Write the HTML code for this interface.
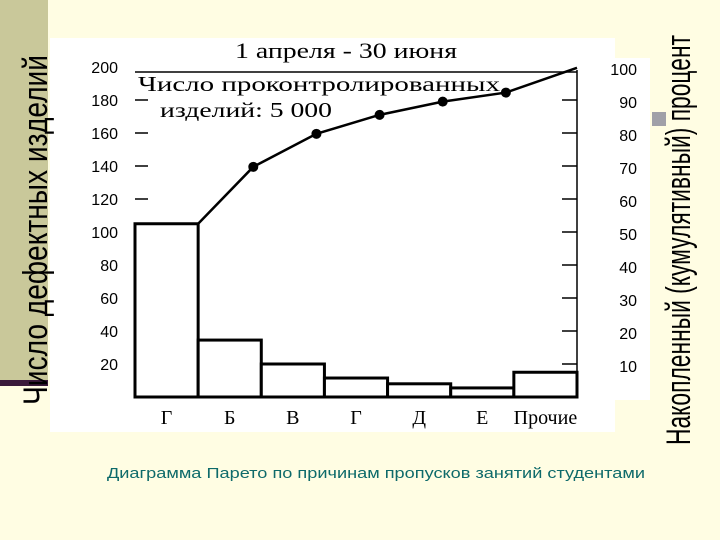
<!DOCTYPE html>
<html><head><meta charset="utf-8"><style>
html,body{margin:0;padding:0;background:#fffde3;}
svg{display:block}
</style></head><body>
<svg width="720" height="540" viewBox="0 0 720 540" xmlns="http://www.w3.org/2000/svg">
<rect x="0" y="0" width="720" height="540" fill="#fffde3"/>
<rect x="0" y="0" width="48" height="383" fill="#c9c89a"/>
<rect x="0" y="380" width="48" height="6" fill="#3a1a3a"/>
<rect x="50" y="38" width="565" height="394" fill="#ffffff"/>
<rect x="598" y="58" width="52" height="342" fill="#ffffff"/>
<rect x="652" y="112" width="14" height="14" fill="#a0a0a8"/>
<text transform="translate(47,405) rotate(-90)" font-family="'Liberation Sans',sans-serif" font-size="34" fill="#000" textLength="350" lengthAdjust="spacingAndGlyphs">Число дефектных изделий</text>
<text transform="translate(690,445) rotate(-90)" font-family="'Liberation Sans',sans-serif" font-size="34" fill="#000" textLength="410" lengthAdjust="spacingAndGlyphs">Накопленный (кумулятивный) процент</text>
<text x="346" y="58" text-anchor="middle" font-family="'Liberation Serif',serif" font-size="22" textLength="222" lengthAdjust="spacingAndGlyphs">1 апреля - 30 июня</text>
<text x="138" y="91" font-family="'Liberation Serif',serif" font-size="21" textLength="362" lengthAdjust="spacingAndGlyphs">Число проконтролированных</text>
<text x="160" y="117" font-family="'Liberation Serif',serif" font-size="21" textLength="172" lengthAdjust="spacingAndGlyphs">изделий: 5 000</text>
<g id="chart"></g>
<text x="376" y="478" text-anchor="middle" font-family="'Liberation Sans',sans-serif" font-size="15" fill="#0e6a6a" textLength="538" lengthAdjust="spacingAndGlyphs">Диаграмма Парето по причинам пропусков занятий студентами</text>
</svg>
<script>
const categories=["Г","Б","В","Г","Д","Е","Прочие"];
const counts=[105,34.5,20,11.5,8,5.5,15];
const leftTicks=[20,40,60,80,100,120,140,160,180,200];
const rightTicks=[10,20,30,40,50,60,70,80,90,100];
const NS="http://www.w3.org/2000/svg";
const g=document.getElementById('chart');
const X0=135,X1=577,Y0=397,Y200=67;
const yL=v=>Y0-(v/200)*(Y0-Y200);
const yR=p=>Y0-(p/100)*(Y0-Y200);
const bw=(X1-X0)/categories.length;
const xB=i=>X0+i*bw;
function mk(t,a){const e=document.createElementNS(NS,t);for(const k in a)e.setAttribute(k,a[k]);g.appendChild(e);return e;}
let e;
e=mk('line',{x1:X0,y1:Y0,x2:X1,y2:Y0,stroke:'#000','stroke-width':3});


e=mk('line',{x1:X0,y1:72,x2:X1,y2:72,stroke:'#000','stroke-width':1.5});


e=mk('line',{x1:X1,y1:70,x2:X1,y2:Y0,stroke:'#000','stroke-width':1.5});


leftTicks.forEach(v=>{const y=yL(v);
 if(v<200){e=mk('line',{x1:X0,y1:y,x2:X0+13,y2:y,stroke:'#000','stroke-width':1.5});
 
 }
 e=mk('text',{x:118,y:y+6,'text-anchor':'end','font-family':"'Liberation Sans',sans-serif",'font-size':16});
 e.textContent=v;
 
 });
rightTicks.forEach(p=>{const y=yR(p);
 if(p<100){e=mk('line',{x1:X1-15,y1:y,x2:X1,y2:y,stroke:'#000','stroke-width':1.5});
 
 }
 e=mk('text',{x:637,y:y+8,'text-anchor':'end','font-family':"'Liberation Sans',sans-serif",'font-size':16});
 e.textContent=p;
 
 });
counts.forEach((c,i)=>{
 e=mk('rect',{x:xB(i),y:yL(c),width:bw,height:Y0-yL(c),fill:'#fff',stroke:'#000','stroke-width':3});
 
 
 e=mk('text',{x:xB(i)+bw/2,y:424,'text-anchor':'middle','font-family':"'Liberation Serif',serif",'font-size':20});
 e.textContent=categories[i];
 
 });
let cum=0;const pts=counts.map((c,i)=>{cum+=c;const x=(i===0||i===counts.length-1)?xB(i+1):xB(i+1)-8;return [x,yL(cum)];});
e=mk('polyline',{points:pts.map(p=>p.join(',')).join(' '),fill:'none',stroke:'#000','stroke-width':2.5});


pts.forEach((p,i)=>{if(i>0&&i<pts.length-1){
 e=mk('circle',{cx:p[0],cy:p[1],r:5,fill:'#000'});
 
 }});
</script>
</body></html>
